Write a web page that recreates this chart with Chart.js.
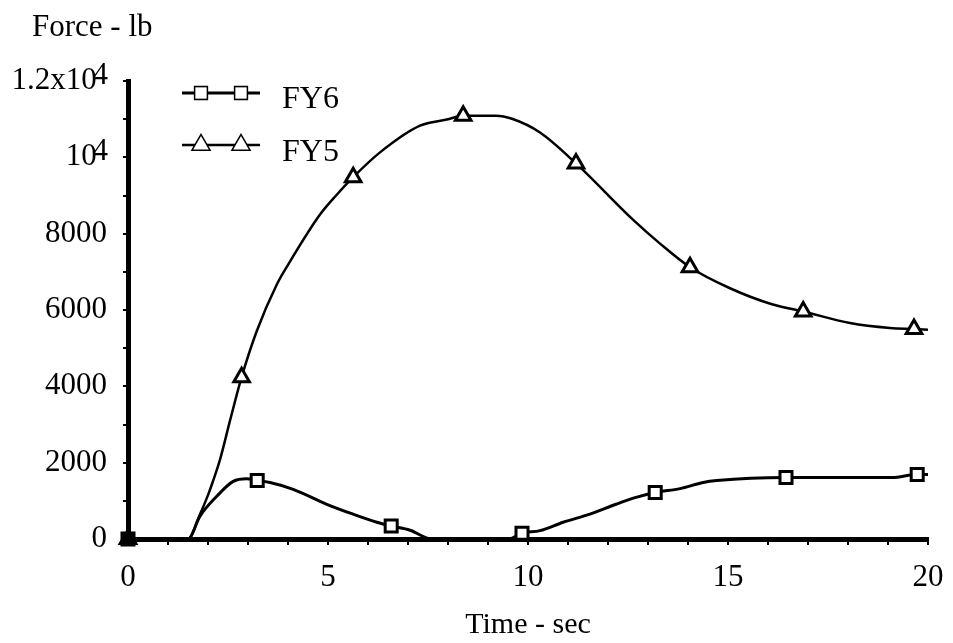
<!DOCTYPE html>
<html>
<head>
<meta charset="utf-8">
<script src="https://cdn.jsdelivr.net/npm/chart.js@4"></script>
<style>
  html, body { margin: 0; padding: 0; background: #fff; }
  canvas { display: block; }
</style>
</head>
<body>
<canvas id="chart" width="953" height="643"></canvas>
<script>
// FY5 egrisi (ucgenler)
const fy5Time  = [0, 1.5, 1.8, 2.0, 2.12, 2.3, 2.55, 2.84, 3.22, 3.72, 4.05, 4.8, 5.22, 5.63, 6.3, 7.3, 7.97, 8.38, 9.2, 9.6, 10.3, 11.2, 12.63, 13.3, 14.05, 15.05, 16.1, 16.88, 18.05, 19.05, 19.65, 20];
const fy5Force = [0, 0, 650, 1150, 1500, 2080, 3100, 4240, 5450, 6670, 7270, 8500, 9020, 9480, 10130, 10830, 10990, 11090, 11090, 11010, 10650, 9840, 8360, 7740, 7120, 6570, 6150, 5960, 5660, 5530, 5500, 5480];
const fy5MarkTime  = [0, 2.84, 5.63, 8.38, 11.2, 14.05, 16.88, 19.65];
const fy5MarkForce = [0, 4240, 9480, 11090, 9840, 7120, 5960, 5500];

// FY6 egrisi (kareler)
const fy6Time  = [0, 1.5, 1.8, 2.22, 2.63, 2.97, 3.23, 3.55, 4.13, 4.97, 5.63, 6.22, 6.58, 7.05, 7.6, 9.5, 9.85, 10.3, 10.88, 11.55, 12.2, 12.7, 13.18, 13.8, 14.38, 14.72, 16.45, 19.1, 19.73, 20];
const fy6Force = [0, 0, 600, 1120, 1510, 1580, 1530, 1480, 1300, 910, 650, 440, 340, 230, 0, 0, 150, 220, 440, 650, 910, 1090, 1220, 1320, 1480, 1530, 1610, 1610, 1690, 1690];
const fy6MarkTime  = [0, 3.23, 6.58, 9.85, 13.18, 16.45, 19.73];
const fy6MarkForce = [0, 1530, 340, 150, 1220, 1610, 1690];

const xTicks = [0, 5, 10, 15, 20];
// 10^4 etiketleri: us kismi eklenti ile ciziliyor
const yTickLabels = { 0: '0', 2000: '2000', 4000: '4000', 6000: '6000', 8000: '8000', 10000: '10\u2004', 12000: '1.2x10\u2004' };
const yPowerTicks = [10000, 12000];

const FONT = 'Liberation Serif, Times New Roman, serif';

function pts(xs, ys) {
  return xs.map((x, i) => ({ x: x, y: ys[i] }));
}

// Baslik, us ve lejant
const decorPlugin = {
  id: 'decor',
  afterDraw(chart) {
    const ctx = chart.ctx;
    const yScale = chart.scales.y;
    ctx.save();
    ctx.fillStyle = '#000';
    ctx.font = '31px ' + FONT;
    ctx.textBaseline = 'alphabetic';
    ctx.textAlign = 'left';
    ctx.fillText('Force - lb', 32, 36);

    ctx.textAlign = 'right';
    ctx.textBaseline = 'middle';
    yPowerTicks.forEach(v => {
      ctx.fillText('4', 108, yScale.getPixelForValue(v) - 5);
    });

    const rows = [
      { label: 'FY6', y: 93, ty: 100, style: 'rect', r: 8, lw: 3 },
      { label: 'FY5', y: 145, ty: 153, style: 'triangle', r: 9, lw: 2.5 },
    ];
    ctx.textAlign = 'left';
    rows.forEach(row => {
      ctx.strokeStyle = '#000';
      ctx.lineWidth = row.lw;
      ctx.beginPath();
      ctx.moveTo(182, row.y);
      ctx.lineTo(260, row.y);
      ctx.stroke();
      [201, 241].forEach(px => {
        ctx.fillStyle = '#fff';
        ctx.lineWidth = 3;
        Chart.helpers.drawPoint(ctx, { pointStyle: row.style, radius: row.r, borderWidth: 3 }, px, row.y);
        ctx.fill();
      });
      ctx.fillStyle = '#000';
      ctx.font = '32px ' + FONT;
      ctx.fillText(row.label, 282, row.ty);
    });
    ctx.restore();
  }
};

const originFill = c => c.dataIndex === 0 ? '#000' : '#fff';

new Chart(document.getElementById('chart'), {
  type: 'scatter',
  data: {
    datasets: [
      {
        label: 'FY5',
        data: pts(fy5Time, fy5Force),
        showLine: true,
        borderColor: '#000',
        borderWidth: 2.5,
        pointRadius: 0,
        cubicInterpolationMode: 'monotone',
        order: 3,
      },
      {
        label: 'FY6',
        data: pts(fy6Time, fy6Force),
        showLine: true,
        borderColor: '#000',
        borderWidth: 3,
        pointRadius: 0,
        cubicInterpolationMode: 'monotone',
        order: 4,
      },
      {
        label: 'FY5 markers',
        data: pts(fy5MarkTime, fy5MarkForce),
        showLine: false,
        clip: false,
        pointStyle: 'triangle',
        pointRadius: 9,
        pointBorderWidth: 3,
        pointBorderColor: '#000',
        pointBackgroundColor: originFill,
        order: 1,
      },
      {
        label: 'FY6 markers',
        data: pts(fy6MarkTime, fy6MarkForce),
        showLine: false,
        clip: false,
        pointStyle: 'rect',
        pointRadius: 8.5,
        pointBorderWidth: 3,
        pointBorderColor: '#000',
        pointBackgroundColor: originFill,
        order: 2,
      },
    ]
  },
  options: {
    responsive: false,
    animation: false,
    devicePixelRatio: 1,
    layout: { padding: { left: 0, right: 25, top: 81, bottom: 0 } },
    plugins: {
      legend: { display: false },
      tooltip: { enabled: false },
    },
    scales: {
      x: {
        type: 'linear',
        min: 0,
        max: 20,
        ticks: {
          stepSize: 1,
          color: '#000',
          font: { family: FONT, size: 31 },
          padding: 14,
          maxRotation: 0,
          autoSkip: false,
          callback: v => xTicks.includes(v) ? String(v) : '',
        },
        grid: { drawOnChartArea: false, drawTicks: true, tickLength: 6, color: '#000', lineWidth: 2 },
        border: { display: true, color: '#000', width: 5 },
        title: {
          display: true,
          text: 'Time - sec',
          color: '#000',
          font: { family: FONT, size: 30 },
          padding: { top: 0, bottom: 0 },
        },
        afterFit: scale => {
          scale.height = 104;
          scale.paddingLeft = 0;
          scale.paddingRight = 0;
        },
      },
      y: {
        type: 'linear',
        min: 0,
        max: 12000,
        ticks: {
          stepSize: 1000,
          color: '#000',
          font: { family: FONT, size: 31 },
          padding: 16,
          autoSkip: false,
          callback: v => yTickLabels[v] !== undefined ? yTickLabels[v] : '',
        },
        grid: { drawOnChartArea: false, drawTicks: true, tickLength: 5, color: '#000', lineWidth: 2 },
        border: { display: true, color: '#000', width: 5 },
        afterFit: scale => { scale.width = 128; },
      },
    },
  },
  plugins: [decorPlugin],
});
</script>
</body>
</html>
